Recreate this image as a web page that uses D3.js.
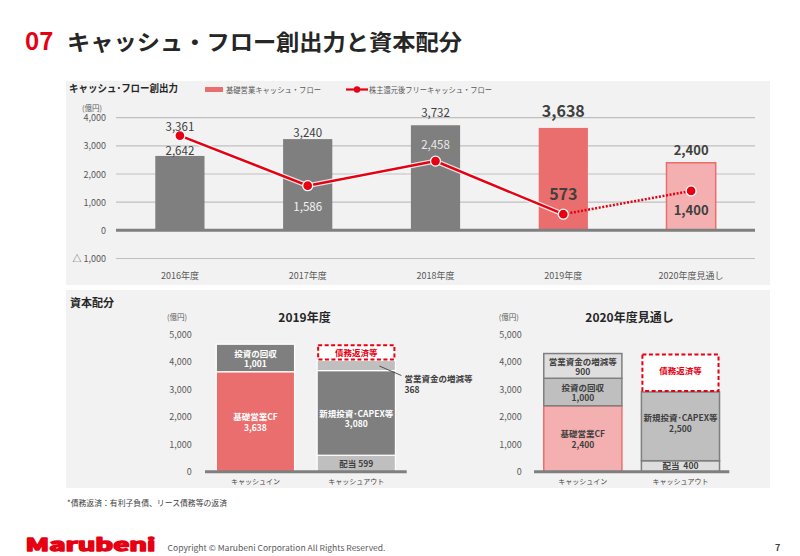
<!DOCTYPE html>
<html>
<head>
<meta charset="utf-8">
<script src="https://cdn.jsdelivr.net/npm/d3@7"></script>
<style>
  html, body { margin: 0; padding: 0; background: #ffffff; }
  svg { display: block; }
  text { font-family: "Noto Sans CJK JP", "Noto Sans", sans-serif; }
</style>
</head>
<body>
<script>
// ---------------- DATA ----------------
const years = ["2016年度", "2017年度", "2018年度", "2019年度", "2020年度見通し"];
const baseCF = [2642, 3240, 3732, 3638, 2400];          // 基礎営業キャッシュ・フロー
const freeCF = [3361, 1586, 2458, 573, 1400];           // 株主還元後フリーキャッシュ・フロー
const topTicks = [-1000, 0, 1000, 2000, 3000, 4000];
const topTickLabels = ["△ 1,000", "0", "1,000", "2,000", "3,000", "4,000"];

const allocCats = ["キャッシュイン", "キャッシュアウト"];
const bottomTicks = [0, 1000, 2000, 3000, 4000, 5000];
const bottomTickLabels = ["0", "1,000", "2,000", "3,000", "4,000", "5,000"];

const in2019Names = ["基礎営業CF", "投資の回収"];
const in2019Values = [3638, 1001];
const out2019Names = ["配当", "新規投資･CAPEX等", "営業資金の増減等", "債務返済等"];
const out2019Values = [599, 3080, 368, 592];

const in2020Names = ["基礎営業CF", "投資の回収", "営業資金の増減等"];
const in2020Values = [2400, 1000, 900];
const out2020Names = ["配当", "新規投資･CAPEX等", "債務返済等"];
const out2020Values = [400, 2500, 1400];

// ---------------- DRAW ----------------
const W = 800, H = 556;
const RED = "#e60012", SALMON = "#eb6e6e", PINK = "#f4b0b0";
const DGREY = "#7f7f7f", MGREY = "#bfbfbf", LGREY = "#dedede", TXT = "#404040";
const fmt = d3.format(",");

const svg = d3.select("body").append("svg").attr("width", W).attr("height", H);
svg.append("rect").attr("width", W).attr("height", H).attr("fill", "#fff");

// page title
svg.append("text").attr("x", 25).attr("y", 50).attr("fill", RED)
  .attr("font-family", "'Noto Sans', sans-serif").attr("font-weight", 700).attr("font-size", 24).text("07");
svg.append("text").attr("x", 67).attr("y", 50).attr("fill", "#262626")
  .attr("font-weight", 700).attr("font-size", 22)
  .attr("textLength", 395).attr("lengthAdjust", "spacingAndGlyphs")
  .text("キャッシュ・フロー創出力と資本配分");

// panels
svg.append("rect").attr("x", 66).attr("y", 81).attr("width", 704).attr("height", 204).attr("fill", "#f2f2f2");
svg.append("rect").attr("x", 66).attr("y", 290).attr("width", 704).attr("height", 198).attr("fill", "#f2f2f2");

// ===== TOP CHART =====
const topG = svg.append("g");
const x = d3.scaleBand().domain(years).range([116, 755]).paddingInner(0.615).paddingOuter(0.3075);
const y = d3.scaleLinear().domain([-1000, 4000]).range([258.5, 117.7]);

topG.append("text").attr("x", 69).attr("y", 92).attr("fill", "#262626")
  .attr("font-weight", 700).attr("font-size", 10.5)
  .attr("textLength", 109).attr("lengthAdjust", "spacingAndGlyphs")
  .text("キャッシュ･フロー創出力");
topG.append("text").attr("x", 82).attr("y", 107).attr("dominant-baseline", "central")
  .attr("fill", "#595959").attr("font-size", 7.5).text("(億円)");

// legend
topG.append("rect").attr("x", 205).attr("y", 87).attr("width", 18).attr("height", 5).attr("fill", SALMON);
topG.append("text").attr("x", 226).attr("y", 89.5).attr("dominant-baseline", "central")
  .attr("fill", "#595959").attr("font-size", 7.8)
  .attr("textLength", 95).attr("lengthAdjust", "spacingAndGlyphs").text("基礎営業キャッシュ・フロー");
topG.append("line").attr("x1", 346).attr("x2", 368).attr("y1", 89.5).attr("y2", 89.5)
  .attr("stroke", RED).attr("stroke-width", 2.2);
topG.append("circle").attr("cx", 357).attr("cy", 89.5).attr("r", 3.2).attr("fill", RED);
topG.append("text").attr("x", 369).attr("y", 89.5).attr("dominant-baseline", "central")
  .attr("fill", "#595959").attr("font-size", 7.8)
  .attr("textLength", 123).attr("lengthAdjust", "spacingAndGlyphs").text("株主還元後フリーキャッシュ・フロー");

// gridlines & ticks
topG.selectAll(".grid").data(topTicks.filter(t => t !== 0)).join("line")
  .attr("x1", 116).attr("x2", 755).attr("y1", d => y(d)).attr("y2", d => y(d))
  .attr("stroke", "#bfbfbf").attr("stroke-width", 1.2);
topG.selectAll(".tick").data(topTicks).join("text")
  .attr("x", 106).attr("y", d => y(d)).attr("text-anchor", "end").attr("dominant-baseline", "central")
  .attr("fill", "#595959").attr("font-family", "'DejaVu Sans', sans-serif").attr("font-size", 9)
  .text((d, i) => topTickLabels[i]);

// bars
const barFill = i => i < 3 ? DGREY : (i === 3 ? SALMON : PINK);
topG.selectAll(".bar").data(baseCF).join("rect")
  .attr("x", (d, i) => x(years[i])).attr("width", x.bandwidth())
  .attr("y", d => y(d)).attr("height", d => y(0) - y(d))
  .attr("fill", (d, i) => barFill(i))
  .attr("stroke", (d, i) => i === 4 ? SALMON : "none").attr("stroke-width", 1.5);

// zero line
topG.append("line").attr("x1", 116).attr("x2", 755).attr("y1", y(0)).attr("y2", y(0))
  .attr("stroke", DGREY).attr("stroke-width", 3);

// year labels
topG.selectAll(".xl").data(years).join("text")
  .attr("x", d => x(d) + x.bandwidth() / 2).attr("y", 275).attr("text-anchor", "middle")
  .attr("dominant-baseline", "central").attr("fill", "#595959").attr("font-size", 9).text(d => d);

// line
const cx = i => x(years[i]) + x.bandwidth() / 2;
const lineGen = d3.line().x(d => cx(d.i)).y(d => y(d.v));
const pts = freeCF.map((v, i) => ({ v, i }));
const solid = pts.slice(0, 4), dotted = pts.slice(3);
topG.append("path").attr("d", lineGen(solid)).attr("fill", "none").attr("stroke", "#fff")
  .attr("stroke-opacity", 0.8).attr("stroke-width", 5);
topG.append("path").attr("d", lineGen(solid)).attr("fill", "none").attr("stroke", RED).attr("stroke-width", 2.5);
topG.append("path").attr("d", lineGen(dotted)).attr("fill", "none").attr("stroke", RED)
  .attr("stroke-width", 2.5).attr("stroke-dasharray", "2,1.6");
topG.selectAll(".pt").data(pts).join("circle")
  .attr("cx", d => cx(d.i)).attr("cy", d => y(d.v)).attr("r", 5)
  .attr("fill", RED).attr("stroke", "#fff").attr("stroke-width", 1.3);

// value labels (placement rules per point)
const barLblDy = [-6, -7, -13, -18, -13];
const barLblSize = [11.5, 11.5, 11.5, 16, 13];
const barLblWeight = [400, 400, 400, 700, 700];
topG.selectAll(".bl").data(baseCF).join("text")
  .attr("x", (d, i) => cx(i)).attr("y", (d, i) => y(d) + barLblDy[i])
  .attr("text-anchor", "middle").attr("dominant-baseline", "central")
  .attr("font-family", "'DejaVu Sans', sans-serif")
  .attr("font-size", (d, i) => barLblSize[i]).attr("font-weight", (d, i) => barLblWeight[i])
  .attr("fill", TXT).text(d => fmt(d));
const lnLblDy = [-10, 20, -17, -21, 19];
const lnLblSize = [11.5, 11.5, 11.5, 16, 13];
const lnLblWeight = [400, 400, 400, 700, 700];
const lnLblFill = ["#404040", "#f2f2f2", "#e8e8e8", "#404040", "#404040"];
topG.selectAll(".ll").data(freeCF).join("text")
  .attr("x", (d, i) => cx(i)).attr("y", (d, i) => y(d) + lnLblDy[i])
  .attr("text-anchor", "middle").attr("dominant-baseline", "central")
  .attr("font-family", "'DejaVu Sans', sans-serif")
  .attr("font-size", (d, i) => lnLblSize[i]).attr("font-weight", (d, i) => lnLblWeight[i])
  .attr("fill", (d, i) => lnLblFill[i]).text(d => fmt(d));

// ===== BOTTOM =====
svg.append("text").attr("x", 70).attr("y", 307).attr("fill", "#262626")
  .attr("font-weight", 700).attr("font-size", 11).text("資本配分");

const yB = d3.scaleLinear().domain([0, 5000]).range([471.7, 334.3]);

function stackOf(values) {
  let acc = 0;
  return values.map(v => { const s = { y0: acc, y1: acc + v, v }; acc += v; return s; });
}

function drawAlloc(opts) {
  const g = svg.append("g");
  const xb = d3.scaleBand().domain(allocCats).range(opts.range)
    .paddingInner(opts.pIn).paddingOuter(opts.pOut);
  // title / unit
  g.append("text").attr("x", opts.titleX).attr("y", 316.7).attr("text-anchor", "middle")
    .attr("dominant-baseline", "central").attr("fill", "#262626").attr("font-weight", 700)
    .attr("font-size", 12).text(opts.title);
  g.append("text").attr("x", opts.unitX).attr("y", 316.7).attr("text-anchor", "middle")
    .attr("dominant-baseline", "central").attr("fill", "#595959").attr("font-size", 7.5).text("(億円)");
  // ticks
  g.selectAll(".t").data(bottomTicks).join("text")
    .attr("x", opts.tickX).attr("y", d => yB(d)).attr("text-anchor", "end")
    .attr("dominant-baseline", "central").attr("fill", "#595959")
    .attr("font-family", "'DejaVu Sans', sans-serif").attr("font-size", 9)
    .text((d, i) => bottomTickLabels[i]);

  const bw = xb.bandwidth();
  const drawStack = (cat, names, values, styles) => {
    const st = stackOf(values);
    const x0 = xb(cat);
    st.forEach((s, i) => {
      const sty = styles[i];
      const yt = yB(s.y1), yb = yB(s.y0);
      if (sty.dashed) {
        g.append("rect").attr("x", x0 + 1).attr("y", yt + 1).attr("width", bw - 2).attr("height", yb - yt - 2)
          .attr("fill", "#fff").attr("stroke", RED).attr("stroke-width", 2).attr("stroke-dasharray", "4,2.5");
      } else {
        g.append("rect").attr("x", x0).attr("y", yt).attr("width", bw).attr("height", yb - yt)
          .attr("fill", sty.fill).attr("stroke", sty.stroke).attr("stroke-width", sty.sw);
      }
      if (sty.label === "none") return;
      const cyy = (yt + yb) / 2 + (sty.dy || 0);
      const txt = g.append("text").attr("x", x0 + bw / 2).attr("text-anchor", "middle")
        .attr("dominant-baseline", "central").attr("font-weight", 700).attr("font-size", 8.5)
        .attr("fill", sty.color);
      if (sty.label === "name") {
        txt.attr("y", cyy).text(names[i]);
      } else if (sty.label === "inline") {
        txt.attr("y", cyy).attr("xml:space", "preserve").text(names[i] + sty.sep + fmt(s.v));
      } else {
        txt.attr("y", cyy - 5.3).text(names[i]);
        g.append("text").attr("x", x0 + bw / 2).attr("y", cyy + 5.3).attr("text-anchor", "middle")
          .attr("dominant-baseline", "central").attr("font-weight", 700).attr("font-size", 8.5)
          .attr("fill", sty.color).text(fmt(s.v));
      }
    });
    return st;
  };
  const inSt = drawStack(allocCats[0], opts.inNames, opts.inValues, opts.inStyles);
  const outSt = drawStack(allocCats[1], opts.outNames, opts.outValues, opts.outStyles);

  // baseline
  g.append("line").attr("x1", opts.range[0]).attr("x2", opts.range[1]).attr("y1", yB(0)).attr("y2", yB(0))
    .attr("stroke", DGREY).attr("stroke-width", 3);
  // category labels
  g.selectAll(".c").data(allocCats).join("text")
    .attr("x", d => xb(d) + bw / 2).attr("y", 480.7).attr("text-anchor", "middle")
    .attr("dominant-baseline", "central").attr("fill", TXT).attr("font-size", 7).text(d => d);
  return { g, xb, inSt, outSt };
}

// 2019
const r19 = drawAlloc({
  title: "2019年度", titleX: 304.5, unitX: 177, tickX: 191.7,
  range: [205, 406.7], pIn: 0.224, pOut: 0.112,
  inNames: in2019Names, inValues: in2019Values,
  inStyles: [
    { fill: SALMON, stroke: "#fff", sw: 1.2, label: "two", color: "#fff" },
    { fill: DGREY, stroke: "#fff", sw: 1.2, label: "two", color: "#fff" }
  ],
  outNames: out2019Names, outValues: out2019Values,
  outStyles: [
    { fill: MGREY, stroke: "#fff", sw: 1.2, label: "inline", sep: " ", color: TXT },
    { fill: DGREY, stroke: "#fff", sw: 1.2, label: "two", color: "#fff", dy: 5 },
    { fill: MGREY, stroke: "#fff", sw: 1.2, label: "none" },
    { dashed: true, label: "name", color: RED }
  ]
});
// callout for 368
{
  const g = r19.g, xb = r19.xb;
  const s = r19.outSt[2];
  const xr = xb(allocCats[1]) + xb.bandwidth();
  g.append("line").attr("x1", xr - 16).attr("y1", yB((s.y0 + s.y1) / 2) + 0.5)
    .attr("x2", xr + 6).attr("y2", 375.5).attr("stroke", "#404040").attr("stroke-width", 0.9);
  g.append("text").attr("x", xr + 9).attr("y", 377.5).attr("dominant-baseline", "central")
    .attr("font-weight", 700).attr("font-size", 8.5).attr("fill", TXT).text(out2019Names[2]);
  g.append("text").attr("x", xr + 9).attr("y", 388.5).attr("dominant-baseline", "central")
    .attr("font-weight", 700).attr("font-size", 8.5).attr("fill", TXT).text(fmt(s.v));
}

// 2020
drawAlloc({
  title: "2020年度見通し", titleX: 629.5, unitX: 508.7, tickX: 521.7,
  range: [534, 729.3], pIn: 0.2, pOut: 0.1,
  inNames: in2020Names, inValues: in2020Values,
  inStyles: [
    { fill: PINK, stroke: SALMON, sw: 1.5, label: "two", color: TXT },
    { fill: MGREY, stroke: DGREY, sw: 1.5, label: "two", color: TXT },
    { fill: LGREY, stroke: DGREY, sw: 1.5, label: "two", color: TXT }
  ],
  outNames: out2020Names, outValues: out2020Values,
  outStyles: [
    { fill: LGREY, stroke: DGREY, sw: 1.5, label: "inline", sep: "  ", color: TXT, dy: -1.5 },
    { fill: MGREY, stroke: DGREY, sw: 1.5, label: "two", color: TXT, dy: -4 },
    { dashed: true, label: "name", color: RED, dy: -3 }
  ]
});

// footnote
svg.append("text").attr("x", 67).attr("y", 506).attr("fill", TXT).attr("font-size", 8)
  .attr("textLength", 160).attr("lengthAdjust", "spacingAndGlyphs")
  .text("*債務返済：有利子負債、リース債務等の返済");

// footer
svg.append("text").attr("x", 25.5).attr("y", 550.5).attr("fill", RED)
  .attr("stroke", RED).attr("stroke-width", 1.4).attr("stroke-linejoin", "round")
  .attr("font-family", "'DejaVu Sans', sans-serif").attr("font-weight", 700).attr("font-size", 16.5)
  .attr("textLength", 130).attr("lengthAdjust", "spacingAndGlyphs").text("Marubeni");
svg.append("text").attr("x", 167.5).attr("y", 550.5).attr("fill", "#595959")
  .attr("font-family", "'Liberation Sans', sans-serif").attr("font-size", 8)
  .attr("textLength", 218).attr("lengthAdjust", "spacingAndGlyphs")
  .text("Copyright © Marubeni Corporation All Rights Reserved.");
svg.append("text").attr("x", 775).attr("y", 550.5).attr("fill", TXT)
  .attr("font-family", "'Liberation Sans', sans-serif").attr("font-weight", 700).attr("font-size", 9).text("7");
</script>
</body>
</html>
